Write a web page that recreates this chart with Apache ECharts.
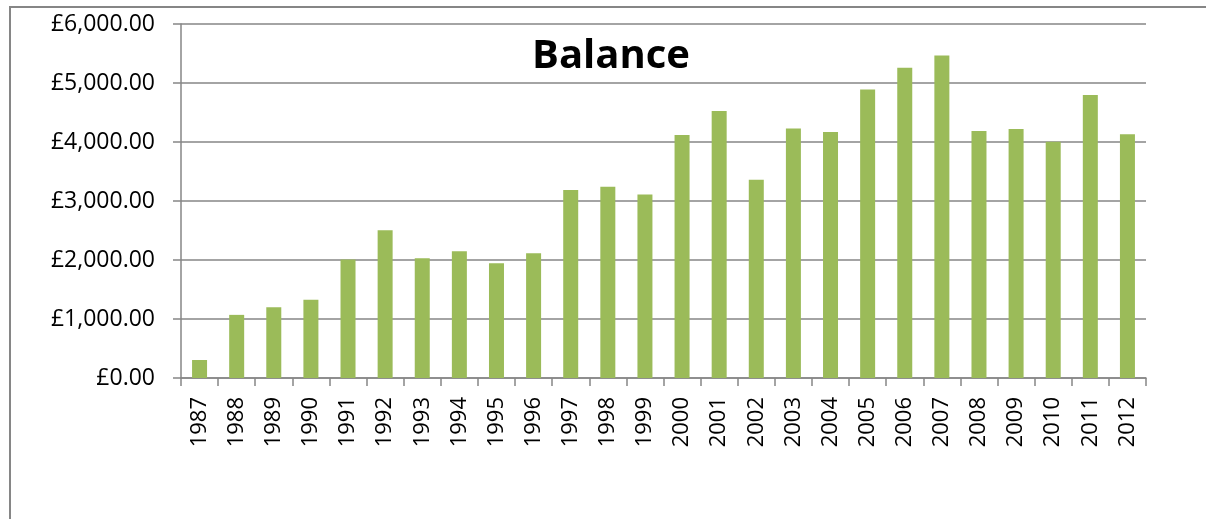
<!DOCTYPE html>
<html>
<head>
<meta charset="utf-8">
<script src="https://cdn.jsdelivr.net/npm/echarts@6/dist/echarts.min.js"></script>
<style>
html,body{margin:0;padding:0;background:#fff;}
#chart{width:1206px;height:519px;}
</style>
</head>
<body>
<div id="chart"></div>
<script>
var years = ['1987','1988','1989','1990','1991','1992','1993','1994','1995','1996','1997','1998','1999','2000','2001','2002','2003','2004','2005','2006','2007','2008','2009','2010','2011','2012'];
var balance = [305,1070,1200,1325,2010,2505,2030,2150,1945,2115,3185,3240,3110,4120,4525,3360,4230,4170,4890,5260,5465,4185,4220,4005,4795,4130];
var chartTitle = 'Balance';

var chart = echarts.init(document.getElementById('chart'), null, {renderer:'canvas'});
chart.setOption({
  animation:false,
  backgroundColor:'#ffffff',
  title:{
    text:chartTitle,
    left:527,
    top:32,
    textStyle:{fontFamily:'Open Sans',fontWeight:'bold',fontSize:40,color:'#000'}
  },
  graphic:[{
    type:'rect',
    shape:{x:10,y:7,width:1400,height:700},
    style:{fill:null,stroke:'#868686',lineWidth:2},
    silent:true
  }],
  grid:{left:181,right:60,top:24,bottom:141},
  xAxis:{
    type:'category',
    data:years,
    boundaryGap:true,
    axisLine:{lineStyle:{color:'#868686',width:1.5}},
    axisTick:{show:true,length:8,alignWithLabel:false,lineStyle:{color:'#868686',width:1.5}},
    axisLabel:{rotate:90,margin:19,interval:0,fontFamily:'Open Sans',fontSize:22,color:'#000'}
  },
  yAxis:{
    type:'value',
    min:0,max:6000,interval:1000,
    axisLine:{show:true,lineStyle:{color:'#868686',width:1.5}},
    axisTick:{show:true,length:8,lineStyle:{color:'#868686',width:1.5}},
    splitLine:{show:true,lineStyle:{color:'#868686',width:1.5}},
    axisLabel:{
      margin:26,fontFamily:'Open Sans',fontSize:23,color:'#000',
      formatter:function(v){return '£'+v.toLocaleString('en-GB',{minimumFractionDigits:2,maximumFractionDigits:2});}
    }
  },
  series:[{
    type:'bar',
    data:balance,
    barWidth:15,
    itemStyle:{color:'#9BBB59'}
  }]
});
</script>
</body>
</html>
